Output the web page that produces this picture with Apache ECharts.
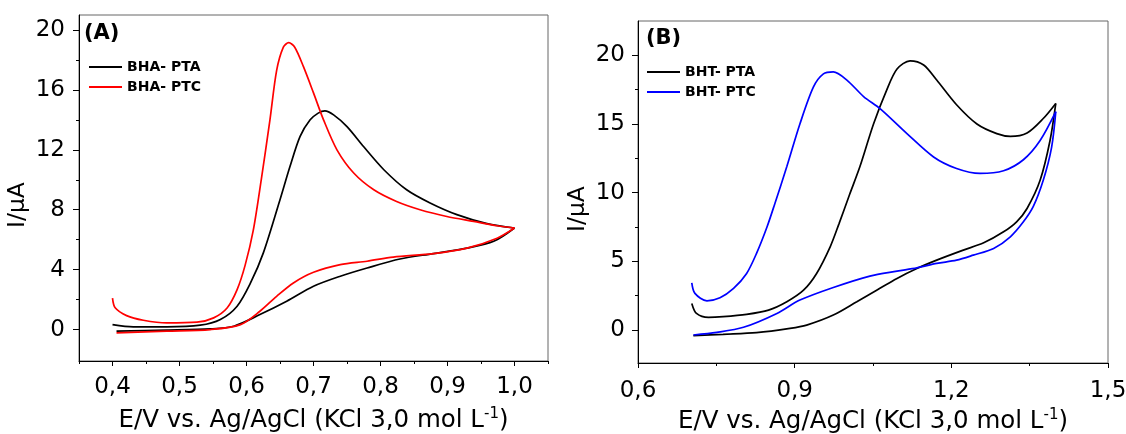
<!DOCTYPE html>
<html><head><meta charset="utf-8">
<script src="https://cdn.jsdelivr.net/npm/echarts@6/dist/echarts.min.js"></script>
<style>html,body{margin:0;padding:0;background:#fff}#c{width:1126px;height:434px}</style>
</head><body><div id="c"></div>
<script>
// ---------- data ----------
const seriesNames = ['BHA- PTA', 'BHA- PTC', 'BHT- PTA', 'BHT- PTC'];
const panelLabels = ['(A)', '(B)'];
const xTitle = '{t|E/V vs. Ag/AgCl (KCl 3,0 mol L}{s|-1}{t|)}';
const yTitle = 'I/\u03bcA';

// Panel A ticks
const xLabelsA = [0.4, 0.5, 0.6, 0.7, 0.8, 0.9, 1.0];
const xMinorA = [0.35, 0.45, 0.55, 0.65, 0.75, 0.85, 0.95, 1.05];
const yLabelsA = [0, 4, 8, 12, 16, 20];
const yMinorA = [2, 6, 10, 14, 18];
// Panel B ticks
const xLabelsB = [0.6, 0.9, 1.2, 1.5];
const xMinorB = [0.75, 1.05, 1.35];
const yLabelsB = [0, 5, 10, 15, 20];
const yMinorB = [2.5, 7.5, 12.5, 17.5];

// Panel A: BHA - PTA (black), anodic branch then return branch
const aPtaFwd = [[0.400,0.33],[0.431,0.18],[0.481,0.18],[0.531,0.29],[0.561,0.67],[0.586,1.56],[0.606,3.11],[0.625,5.1],[0.65,8.67],[0.665,10.9],[0.68,12.9],[0.695,14.0],[0.707,14.45],[0.717,14.6],[0.73,14.33],[0.75,13.55],[0.775,12.2],[0.805,10.67],[0.839,9.33],[0.874,8.45],[0.914,7.67],[0.959,7.07],[1.0,6.78]];
const aPtaRev = [[1.0,6.78],[0.969,5.89],[0.929,5.44],[0.879,5.07],[0.829,4.71],[0.78,4.11],[0.74,3.56],[0.7,2.89],[0.66,1.89],[0.62,1.0],[0.581,0.22],[0.546,0.04],[0.481,-0.04],[0.406,-0.1]];
// Panel A: BHA - PTC (red)
const aPtcFwd = [[0.400,2.1],[0.404,1.45],[0.421,0.93],[0.446,0.62],[0.481,0.44],[0.526,0.49],[0.551,0.78],[0.571,1.44],[0.586,2.67],[0.598,4.3],[0.61,6.6],[0.622,10.0],[0.635,14.0],[0.645,17.3],[0.655,18.85],[0.663,19.15],[0.672,18.85],[0.685,17.55],[0.7,15.8],[0.715,14.0],[0.735,12.0],[0.76,10.45],[0.79,9.33],[0.824,8.55],[0.859,8.0],[0.899,7.55],[0.939,7.22],[0.974,6.93],[1.0,6.78]];
const aPtcRev = [[1.0,6.78],[0.974,6.1],[0.929,5.44],[0.879,5.07],[0.819,4.84],[0.78,4.56],[0.74,4.33],[0.7,3.82],[0.67,3.11],[0.645,2.22],[0.62,1.22],[0.591,0.33],[0.546,0.0],[0.481,-0.11],[0.406,-0.22]];
// Panel B: BHT - PTA (black)
const bPtaFwd = [[0.703,1.94],[0.712,1.21],[0.735,0.92],[0.763,0.97],[0.808,1.14],[0.85,1.45],[0.885,2.06],[0.917,2.9],[0.942,4.12],[0.968,6.06],[0.985,7.75],[1.005,9.85],[1.025,11.9],[1.051,15.0],[1.076,17.45],[1.096,19.0],[1.121,19.6],[1.147,19.3],[1.172,18.2],[1.21,16.4],[1.249,15.0],[1.287,14.3],[1.313,14.1],[1.345,14.35],[1.376,15.4],[1.4,16.5]];
const bPtaRev = [[1.4,16.5],[1.389,13.8],[1.37,10.9],[1.345,8.85],[1.325,7.88],[1.3,7.15],[1.262,6.35],[1.223,5.82],[1.172,5.09],[1.134,4.48],[1.096,3.76],[1.057,2.9],[1.019,2.06],[0.974,1.09],[0.923,0.36],[0.891,0.12],[0.827,-0.19],[0.763,-0.31],[0.706,-0.41]];
// Panel B: BHT - PTC (blue)
const bPtcFwd = [[0.703,3.44],[0.709,2.67],[0.732,2.13],[0.757,2.35],[0.783,3.03],[0.808,4.12],[0.827,5.58],[0.847,7.5],[0.862,9.2],[0.885,11.9],[0.91,15.0],[0.936,17.7],[0.955,18.65],[0.974,18.8],[1.0,18.2],[1.032,17.0],[1.064,16.1],[1.115,14.3],[1.166,12.6],[1.21,11.76],[1.255,11.4],[1.3,11.6],[1.338,12.4],[1.37,13.8],[1.4,15.9]];
const bPtcRev = [[1.4,15.9],[1.392,13.3],[1.376,10.9],[1.357,9.0],[1.338,7.88],[1.313,6.79],[1.281,5.94],[1.242,5.45],[1.21,5.09],[1.172,4.85],[1.134,4.53],[1.096,4.29],[1.044,3.93],[0.974,3.1],[0.91,2.18],[0.866,1.21],[0.802,0.2],[0.751,-0.17],[0.706,-0.36]];

// ---------- chart ----------
const FF = 'DejaVu Sans';
const fmtX = v => v.toFixed(1).replace('.', ',');
const fmtY = v => String(Math.round(v));

function mainX(grid, min, max, labels, margin, gap) {
  return {
    gridIndex: grid, type: 'value', min: min, max: max, position: 'bottom',
    axisLine: { show: true, onZero: false, lineStyle: { color: '#000', width: 1 } },
    axisTick: { show: true, length: 5, customValues: labels, lineStyle: { color: '#000' } },
    axisLabel: { customValues: labels, formatter: fmtX, color: '#000', fontFamily: FF, fontSize: 23, lineHeight: 23, margin: margin },
    splitLine: { show: false },
    name: xTitle, nameLocation: 'middle', nameGap: gap,
    nameTextStyle: { color: '#000', rich: {
      t: { fontFamily: FF, fontSize: 24.5, lineHeight: 28, color: '#000' },
      s: { fontFamily: FF, fontSize: 15, lineHeight: 28, verticalAlign: 'top', color: '#000' } } }
  };
}
function minorX(grid, min, max, ticks) {
  return {
    gridIndex: grid, type: 'value', min: min, max: max, position: 'bottom',
    axisLine: { show: false, onZero: false },
    axisTick: { show: true, length: 3, customValues: ticks, lineStyle: { color: '#000' } },
    axisLabel: { show: false }, splitLine: { show: false }
  };
}
function mainY(grid, min, max, labels, margin, gap) {
  return {
    gridIndex: grid, type: 'value', min: min, max: max, position: 'left',
    axisLine: { show: true, onZero: false, lineStyle: { color: '#000', width: 1 } },
    axisTick: { show: true, length: 6, customValues: labels, lineStyle: { color: '#000' } },
    axisLabel: { customValues: labels, formatter: fmtY, color: '#000', fontFamily: FF, fontSize: 23, lineHeight: 23, margin: margin },
    splitLine: { show: false },
    name: yTitle, nameLocation: 'middle', nameGap: gap,
    nameTextStyle: { color: '#000', fontFamily: FF, fontSize: 23.5, lineHeight: 28, padding: [0, 34, 0, 0] }
  };
}
function minorY(grid, min, max, ticks) {
  return {
    gridIndex: grid, type: 'value', min: min, max: max, position: 'left',
    axisLine: { show: false, onZero: false },
    axisTick: { show: true, length: 3, customValues: ticks, lineStyle: { color: '#000' } },
    axisLabel: { show: false }, splitLine: { show: false }
  };
}
function line(name, data, color, xi, yi) {
  return {
    type: 'line', name: name, data: data, xAxisIndex: xi, yAxisIndex: yi,
    showSymbol: false, symbol: 'none', smooth: 0.3,
    lineStyle: { color: color, width: 1.7 }, itemStyle: { color: color },
    animation: false
  };
}
const legendCommon = {
  orient: 'vertical', padding: 0, itemWidth: 33, itemHeight: 14, itemGap: 6,
  itemStyle: { color: 'rgba(0,0,0,0)', borderWidth: 0 },
  textStyle: { fontFamily: FF, fontSize: 14, fontWeight: 'bold', color: '#000' }
};

const chart = echarts.init(document.getElementById('c'), null, { renderer: 'canvas' });
chart.setOption({
  animation: false,
  backgroundColor: '#fff',
  title: [
    { text: panelLabels[0], left: 84, top: 23, padding: 0, textStyle: { fontFamily: FF, fontSize: 21, fontWeight: 'bold', color: '#000' } },
    { text: panelLabels[1], left: 646, top: 28, padding: 0, textStyle: { fontFamily: FF, fontSize: 21, fontWeight: 'bold', color: '#000' } }
  ],
  legend: [
    Object.assign({ data: [seriesNames[0], seriesNames[1]], left: 88, top: 60 }, legendCommon),
    Object.assign({ data: [seriesNames[2], seriesNames[3]], left: 646, top: 65 }, legendCommon)
  ],
  grid: [
    { left: 79, top: 15, width: 469, height: 346, show: true, borderColor: '#666', borderWidth: 1, containLabel: false, outerBoundsMode: 'none' },
    { left: 638, top: 21, width: 470, height: 342, show: true, borderColor: '#666', borderWidth: 1, containLabel: false, outerBoundsMode: 'none' }
  ],
  xAxis: [
    mainX(0, 0.35, 1.05, xLabelsA, 15, 46),
    minorX(0, 0.35, 1.05, xMinorA),
    mainX(1, 0.6, 1.5, xLabelsB, 17, 44),
    minorX(1, 0.6, 1.5, xMinorB)
  ],
  yAxis: [
    mainY(0, -2.1, 21, yLabelsA, 14, 44),
    minorY(0, -2.1, 21, yMinorA),
    mainY(1, -2.4, 22.5, yLabelsB, 13, 40),
    minorY(1, -2.4, 22.5, yMinorB)
  ],
  series: [
    line(seriesNames[0], aPtaFwd, '#000000', 0, 0),
    line(seriesNames[0], aPtaRev, '#000000', 0, 0),
    line(seriesNames[1], aPtcFwd, '#ff0000', 0, 0),
    line(seriesNames[1], aPtcRev, '#ff0000', 0, 0),
    line(seriesNames[2], bPtaFwd, '#000000', 2, 2),
    line(seriesNames[2], bPtaRev, '#000000', 2, 2),
    line(seriesNames[3], bPtcFwd, '#0000ff', 2, 2),
    line(seriesNames[3], bPtcRev, '#0000ff', 2, 2)
  ]
});
</script>
</body></html>
